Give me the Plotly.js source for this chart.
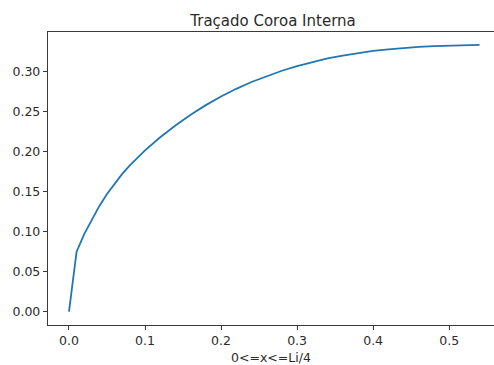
<!DOCTYPE html>
<html>
<head>
<meta charset="utf-8">
<script src="https://cdn.plot.ly/plotly-3.0.1.min.js"></script>
<style>html,body{margin:0;padding:0;background:#fff;}#chart{width:494px;height:365px;}</style>
</head>
<body>
<div id="chart"></div>
<script>
// Values
const xValues = [0, 0.01, 0.02, 0.03, 0.04, 0.05, 0.06, 0.07, 0.08, 0.09, 0.10, 0.12, 0.14, 0.16, 0.18, 0.20, 0.22, 0.24, 0.26, 0.28, 0.30, 0.32, 0.34, 0.36, 0.38, 0.40, 0.42, 0.44, 0.46, 0.48, 0.50, 0.52, 0.54];
const yValues = [0, 0.075, 0.097, 0.115, 0.1322, 0.1472, 0.1604, 0.1722, 0.1829, 0.1927, 0.2017, 0.2180, 0.2328, 0.2462, 0.2582, 0.2690, 0.2786, 0.2871, 0.2946, 0.3012, 0.3070, 0.3120, 0.3165, 0.3202, 0.3233, 0.3259, 0.3280, 0.3297, 0.3310, 0.3320, 0.3327, 0.3332, 0.3334];
const chartTitle = "Traçado Coroa Interna";
const xLabel = "0<=x<=Li/4";
const yTicks = [0, 0.05, 0.10, 0.15, 0.20, 0.25, 0.30];
const xTicks = [0, 0.1, 0.2, 0.3, 0.4, 0.5];

const axisColor = '#3a3a3a';
const font = {family: 'DejaVu Sans, sans-serif', size: 12.5, color: '#2b2b2b'};

Plotly.newPlot('chart', [{
  x: xValues, y: yValues, type: 'scatter', mode: 'lines',
  line: {color: '#1f77b4', width: 1.8}, hoverinfo: 'none'
}], {
  width: 494, height: 365,
  margin: {l: 48, r: 0, t: 32, b: 40, pad: 0},
  paper_bgcolor: '#fff', plot_bgcolor: '#fff',
  font: font,
  showlegend: false,
  title: {text: chartTitle, font: {family: 'DejaVu Sans, sans-serif', size: 15, color: '#2b2b2b'},
          x: 0.5045, xref: 'paper', xanchor: 'center', y: 1, yref: 'paper', yanchor: 'bottom', pad: {b: 6}},
  xaxis: {
    range: [-0.0276, 0.559], tickvals: xTicks, tickformat: '.1f',
    showgrid: false, zeroline: false, showline: true, linecolor: axisColor, linewidth: 1.2,
    mirror: true, ticks: 'outside', ticklen: 4, tickcolor: axisColor, tickwidth: 1,
    title: {text: xLabel, font: font, standoff: 7}, automargin: false
  },
  yaxis: {
    range: [-0.0166, 0.3496], tickvals: yTicks, tickformat: '.2f',
    showgrid: false, zeroline: false, showline: true, linecolor: axisColor, linewidth: 1.2,
    mirror: false, ticks: 'outside', ticklen: 4, tickcolor: axisColor, tickwidth: 1,
    automargin: false
  }
}, {staticPlot: true, displayModeBar: false});
</script>
</body>
</html>
